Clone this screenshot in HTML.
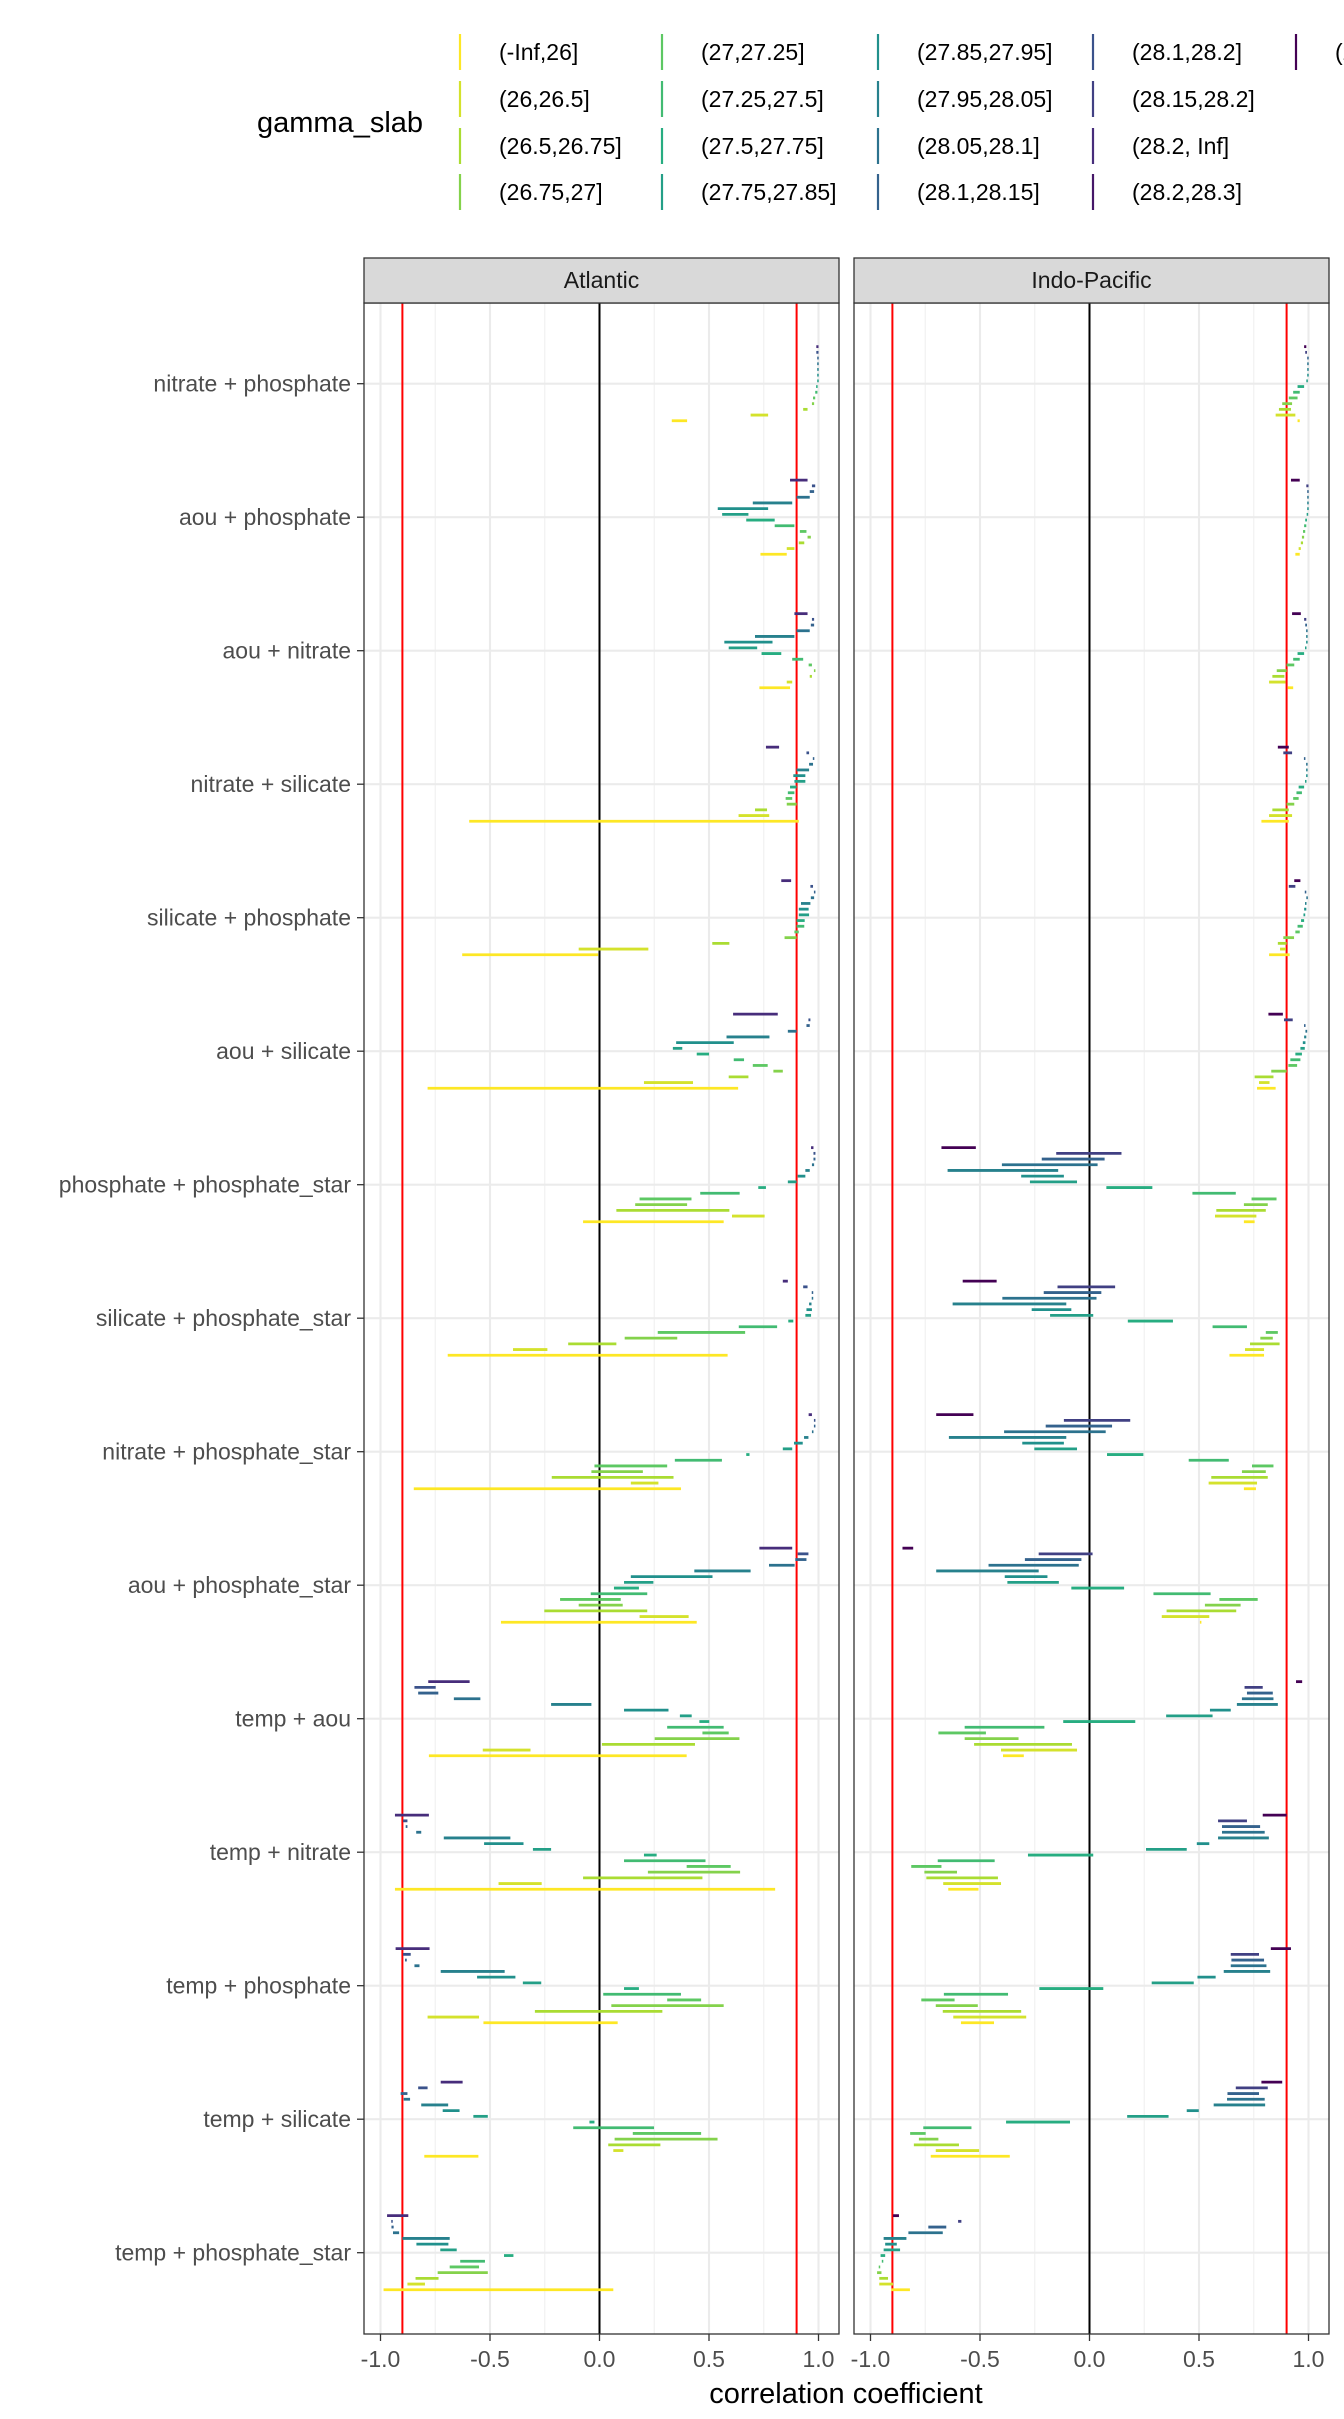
<!DOCTYPE html>
<html><head><meta charset="utf-8"><style>
html,body{margin:0;padding:0;background:#fff;}
svg{display:block;font-family:"Liberation Sans",Arial,sans-serif;}
</style></head><body>
<svg id="chart" width="1344" height="2419" viewBox="0 0 1344 2419" xmlns="http://www.w3.org/2000/svg">
<rect width="1344" height="2419" fill="#fff"/>
<g id="legend"></g>
<g id="panels"></g>
<text x="846" y="2403" font-size="29" text-anchor="middle" fill="#000">correlation coefficient</text>
</svg>
<script>
const rowLabels = ["nitrate + phosphate","aou + phosphate","aou + nitrate","nitrate + silicate","silicate + phosphate","aou + silicate","phosphate + phosphate_star","silicate + phosphate_star","nitrate + phosphate_star","aou + phosphate_star","temp + aou","temp + nitrate","temp + phosphate","temp + silicate","temp + phosphate_star"];
const legendLabels = ["(-Inf,26]","(26,26.5]","(26.5,26.75]","(26.75,27]","(27,27.25]","(27.25,27.5]","(27.5,27.75]","(27.75,27.85]","(27.85,27.95]","(27.95,28.05]","(28.05,28.1]","(28.1,28.15]","(28.1,28.2]","(28.15,28.2]","(28.2, Inf]","(28.2,28.3]","(28.3, Inf]"];
const xTicks = [-1,-0.5,0,0.5,1];
const xTickLabels = ["-1.0","-0.5","0.0","0.5","1.0"];
const refLines = [-0.9,0,0.9];
// slot levels, listed top slot first
const atlLevels = [14,12,11,10,9,8,7,6,5,4,3,2,1,0];
const indoLevels = [16,13,11,10,9,8,7,6,5,4,3,2,1,0];
// values: per row, top slot first
const atlLo = [
[0.99,0.99,0.995,0.995,0.995,0.995,0.995,0.99,0.985,0.975,0.97,0.93,0.69,0.33],
[0.87,0.97,0.96,0.90,0.70,0.54,0.56,0.67,0.80,0.915,0.95,0.91,0.855,0.735],
[0.89,0.97,0.965,0.90,0.71,0.57,0.59,0.74,0.88,0.955,0.98,0.96,0.855,0.73],
[0.76,0.945,0.975,0.957,0.90,0.885,0.89,0.87,0.86,0.85,0.855,0.71,0.635,-0.595],
[0.83,0.963,0.98,0.965,0.92,0.91,0.91,0.90,0.90,0.89,0.845,0.515,-0.095,-0.627],
[0.61,0.954,0.945,0.86,0.58,0.35,0.335,0.444,0.613,0.70,0.794,0.59,0.203,-0.785],
[0.966,0.977,0.977,0.97,0.94,0.905,0.86,0.725,0.46,0.183,0.163,0.077,0.605,-0.075],
[0.837,0.93,0.97,0.97,0.957,0.945,0.94,0.862,0.636,0.266,0.115,-0.143,-0.395,-0.693],
[0.955,0.98,0.98,0.97,0.934,0.888,0.837,0.67,0.344,-0.023,-0.037,-0.218,0.143,-0.848],
[0.73,0.905,0.894,0.774,0.433,0.143,0.112,0.066,-0.04,-0.18,-0.095,-0.252,0.183,-0.45],
[-0.782,-0.845,-0.828,-0.665,-0.221,0.112,0.367,0.456,0.309,0.47,0.252,0.011,-0.533,-0.779],
[-0.934,-0.897,-0.885,-0.837,-0.711,-0.527,-0.304,0.203,0.112,0.398,0.221,-0.075,-0.461,-0.934],
[-0.931,-0.897,-0.888,-0.845,-0.725,-0.559,-0.35,0.112,0.017,0.309,0.054,-0.295,-0.785,-0.53],
[-0.725,-0.828,-0.908,-0.894,-0.814,-0.716,-0.576,-0.046,-0.12,0.152,0.069,0.04,0.063,-0.80],
[-0.97,-0.95,-0.95,-0.943,-0.90,-0.836,-0.727,-0.436,-0.636,-0.684,-0.739,-0.84,-0.877,-0.986]];
const atlHi = [
[1.0,1.0,1.0,1.0,1.0,1.0,1.0,0.995,0.995,0.985,0.98,0.95,0.77,0.40],
[0.95,0.985,0.98,0.96,0.88,0.77,0.68,0.80,0.89,0.945,0.965,0.935,0.89,0.855],
[0.95,0.98,0.98,0.96,0.89,0.79,0.72,0.83,0.93,0.97,0.985,0.97,0.88,0.87],
[0.82,0.957,0.98,0.975,0.957,0.94,0.94,0.90,0.89,0.88,0.90,0.765,0.775,0.91],
[0.875,0.975,0.985,0.98,0.963,0.955,0.957,0.937,0.935,0.91,0.90,0.593,0.223,-0.006],
[0.814,0.963,0.96,0.90,0.776,0.613,0.378,0.50,0.66,0.768,0.837,0.68,0.427,0.633],
[0.977,0.986,0.986,0.98,0.96,0.94,0.90,0.76,0.64,0.42,0.40,0.593,0.754,0.567],
[0.86,0.95,0.975,0.975,0.968,0.97,0.966,0.885,0.811,0.665,0.355,0.077,-0.238,0.585],
[0.97,0.985,0.985,0.977,0.954,0.928,0.88,0.685,0.559,0.309,0.198,0.338,0.269,0.372],
[0.88,0.954,0.945,0.891,0.69,0.516,0.246,0.18,0.218,0.097,0.106,0.218,0.407,0.444],
[-0.593,-0.748,-0.736,-0.544,-0.037,0.315,0.421,0.501,0.567,0.59,0.639,0.436,-0.315,0.398],
[-0.779,-0.877,-0.877,-0.814,-0.407,-0.347,-0.221,0.261,0.484,0.599,0.642,0.47,-0.264,0.802],
[-0.776,-0.862,-0.88,-0.822,-0.433,-0.384,-0.266,0.18,0.372,0.464,0.567,0.287,-0.55,0.083],
[-0.625,-0.785,-0.877,-0.865,-0.691,-0.639,-0.51,-0.023,0.249,0.464,0.539,0.278,0.109,-0.553],
[-0.873,-0.945,-0.94,-0.915,-0.684,-0.69,-0.652,-0.393,-0.523,-0.55,-0.51,-0.735,-0.797,0.063]];
const indoLo = [
[0.98,0.985,0.995,0.995,0.995,0.995,0.99,0.95,0.93,0.91,0.88,0.865,0.85,0.95],
[0.92,0.99,0.995,0.995,0.995,0.995,0.993,0.985,0.98,0.975,0.97,0.965,0.955,0.94],
[0.925,0.98,0.985,0.99,0.99,0.99,0.985,0.95,0.93,0.90,0.855,0.835,0.82,0.905],
[0.86,0.885,0.98,0.99,0.99,0.99,0.985,0.955,0.945,0.93,0.90,0.835,0.82,0.785],
[0.935,0.91,0.983,0.99,0.985,0.98,0.977,0.966,0.95,0.94,0.885,0.86,0.87,0.82],
[0.817,0.888,0.98,0.986,0.98,0.974,0.963,0.94,0.917,0.908,0.83,0.754,0.774,0.765],
[-0.676,-0.152,-0.218,-0.40,-0.648,-0.312,-0.272,0.077,0.47,0.74,0.705,0.579,0.573,0.705],
[-0.579,-0.146,-0.209,-0.398,-0.625,-0.264,-0.18,0.175,0.562,0.805,0.78,0.733,0.71,0.639],
[-0.70,-0.117,-0.20,-0.39,-0.642,-0.307,-0.252,0.08,0.453,0.742,0.696,0.556,0.544,0.705],
[-0.854,-0.232,-0.295,-0.461,-0.70,-0.387,-0.375,-0.083,0.292,0.593,0.527,0.352,0.33,0.505],
[0.943,0.708,0.719,0.696,0.673,0.55,0.35,-0.12,-0.57,-0.69,-0.57,-0.527,-0.404,-0.395],
[0.791,0.587,0.605,0.605,0.587,0.49,0.258,-0.281,-0.693,-0.814,-0.754,-0.745,-0.668,-0.645],
[0.828,0.645,0.648,0.645,0.613,0.493,0.284,-0.229,-0.665,-0.768,-0.702,-0.67,-0.622,-0.587],
[0.785,0.668,0.63,0.628,0.567,0.444,0.172,-0.381,-0.759,-0.819,-0.779,-0.802,-0.702,-0.725],
[-0.897,-0.60,-0.736,-0.827,-0.94,-0.933,-0.94,-0.954,-0.948,-0.962,-0.97,-0.96,-0.96,-0.905]];
const indoHi = [
[0.99,0.993,1.0,1.0,1.0,1.0,0.997,0.98,0.96,0.95,0.925,0.92,0.94,0.96],
[0.96,1.0,1.0,1.0,1.0,1.0,0.997,0.993,0.99,0.985,0.98,0.975,0.965,0.96],
[0.965,0.99,0.993,0.995,0.995,0.995,0.99,0.98,0.96,0.935,0.90,0.89,0.895,0.93],
[0.91,0.925,0.985,0.995,0.995,0.995,0.99,0.98,0.97,0.955,0.935,0.91,0.925,0.91],
[0.963,0.94,0.99,0.997,0.99,0.99,0.985,0.98,0.974,0.96,0.934,0.90,0.897,0.914],
[0.883,0.928,0.986,0.994,0.99,0.986,0.983,0.97,0.963,0.948,0.90,0.84,0.822,0.85],
[-0.519,0.146,0.069,0.037,-0.143,-0.117,-0.057,0.287,0.668,0.854,0.814,0.805,0.762,0.754],
[-0.424,0.117,0.054,0.032,-0.106,-0.083,0.017,0.381,0.719,0.86,0.837,0.868,0.797,0.797],
[-0.53,0.186,0.103,0.074,-0.106,-0.117,-0.057,0.246,0.636,0.84,0.805,0.814,0.765,0.76],
[-0.805,0.014,-0.037,-0.049,-0.232,-0.192,-0.14,0.158,0.553,0.768,0.69,0.67,0.547,0.51],
[0.971,0.791,0.837,0.84,0.86,0.645,0.562,0.209,-0.206,-0.473,-0.324,-0.08,-0.057,-0.30],
[0.90,0.719,0.779,0.80,0.819,0.547,0.444,0.017,-0.433,-0.676,-0.605,-0.418,-0.404,-0.507],
[0.92,0.774,0.797,0.808,0.825,0.576,0.476,0.063,-0.372,-0.616,-0.51,-0.312,-0.289,-0.436],
[0.88,0.814,0.774,0.80,0.802,0.499,0.361,-0.089,-0.539,-0.748,-0.69,-0.596,-0.504,-0.364],
[-0.87,-0.585,-0.654,-0.67,-0.836,-0.88,-0.865,-0.933,-0.942,-0.956,-0.95,-0.92,-0.897,-0.82]];

const NS = "http://www.w3.org/2000/svg";
function mk(tag, attrs, parent){const e=document.createElementNS(NS,tag);for(const k in attrs)e.setAttribute(k,attrs[k]);parent.appendChild(e);return e;}
const vir = ["#440154","#472D7B","#3B528B","#2C728E","#21908C","#27AD81","#5DC863","#AADC32","#FDE725"];
function hex(h){return [1,3,5].map(i=>parseInt(h.substr(i,2),16));}
function viridis(t){const p=t*8,i=Math.min(7,Math.floor(p)),f=p-i;const a=hex(vir[i]),b=hex(vir[i+1]);return "rgb("+a.map((v,k)=>Math.round(v+(b[k]-v)*f)).join(",")+")";}
function levelColor(l){return viridis(1 - l/16);}

// legend
const lg = document.getElementById("legend");
const gt = mk("text",{x:257,y:132,"font-size":29,fill:"#000"},lg); gt.textContent="gamma_slab";


const colKeyX=[460,662,878,1093,1296], rowY=[52,99,146,192];
legendLabels.forEach((lab,i)=>{
  const c=Math.floor(i/4), r=i%4;
  const g=mk("g",{},lg);
  
  
  mk("line",{x1:colKeyX[c],x2:colKeyX[c],y1:rowY[r]-18,y2:rowY[r]+18,stroke:levelColor(i),"stroke-width":2.2},g);
  const t=mk("text",{x:colKeyX[c]+39,y:rowY[r]+8,"font-size":23,fill:"#000"},g); t.textContent=lab;
});

// panels
const pg = document.getElementById("panels");
const panelTop=303, panelBot=2334, stripTop=258;
const unit=219;
const rowCenter = k => 383.7 + 133.5*k;
const slotGap = 5.7;
const panels=[{name:"Atlantic",left:364,zero:599.5,lo:atlLo,hi:atlHi,lev:atlLevels},
              {name:"Indo-Pacific",left:854,zero:1089.5,lo:indoLo,hi:indoHi,lev:indoLevels}];
const W=475;
panels.forEach((p,pi)=>{
  const g=mk("g",{},pg);
  
  
  const xs=v=>p.zero+v*unit;
  mk("rect",{x:p.left,y:panelTop,width:W,height:panelBot-panelTop,fill:"#fff"},g);
  // minor grid
  [-0.75,-0.25,0.25,0.75].forEach(v=>mk("line",{x1:xs(v),x2:xs(v),y1:panelTop,y2:panelBot,stroke:"#f0f0f0","stroke-width":1.1},g));
  xTicks.forEach(v=>mk("line",{x1:xs(v),x2:xs(v),y1:panelTop,y2:panelBot,stroke:"#ebebeb","stroke-width":2.1},g));
  rowLabels.forEach((l,k)=>mk("line",{x1:p.left,x2:p.left+W,y1:rowCenter(k),y2:rowCenter(k),stroke:"#ebebeb","stroke-width":2.1},g));
  refLines.forEach(v=>{
    const ln=mk("line",{x1:xs(v),x2:xs(v),y1:panelTop,y2:panelBot,stroke:v===0?"#000":"#ff0000","stroke-width":2},g);
    
    
  });
  // bars
  rowLabels.forEach((l,k)=>{
    const lo=p.lo[k], hi=p.hi[k];
    lo.forEach((a,j)=>{
      const b=hi[j];
      const y=rowCenter(k)+(j-6.5)*slotGap;
      let x1=xs(Math.min(a,b)), x2=xs(Math.max(a,b));
      if(x2-x1<1.5){const m=(x1+x2)/2;x1=m-0.75;x2=m+0.75;}
      const bar=mk("line",{x1:x1,x2:x2,y1:y,y2:y,stroke:levelColor(p.lev[j]),"stroke-width":2.8},g);
      
      
    });
  });
  mk("rect",{x:p.left,y:panelTop,width:W,height:panelBot-panelTop,fill:"none",stroke:"#333","stroke-width":1.3},g);
  // strip
  const st=mk("rect",{x:p.left,y:stripTop,width:W,height:panelTop-stripTop,fill:"#d9d9d9",stroke:"#333","stroke-width":1.3},g);
  
  
  const stt=mk("text",{x:p.left+W/2,y:288,"font-size":23,"text-anchor":"middle",fill:"#1a1a1a"},g); stt.textContent=p.name;
  // x ticks
  xTicks.forEach((v,i)=>{
    mk("line",{x1:xs(v),x2:xs(v),y1:panelBot,y2:panelBot+7,stroke:"#333","stroke-width":1.3},g);
    const t=mk("text",{x:xs(v),y:2367,"font-size":23,"text-anchor":"middle",fill:"#4d4d4d"},g); t.textContent=xTickLabels[i];
    
    
  });
});
// y labels
rowLabels.forEach((l,k)=>{
  mk("line",{x1:357,x2:364,y1:rowCenter(k),y2:rowCenter(k),stroke:"#333","stroke-width":1.3},pg);
  const t=mk("text",{x:351,y:rowCenter(k)+8,"font-size":23,"text-anchor":"end",fill:"#4d4d4d"},pg); t.textContent=l;
  
  
});
</script>
</body></html>
